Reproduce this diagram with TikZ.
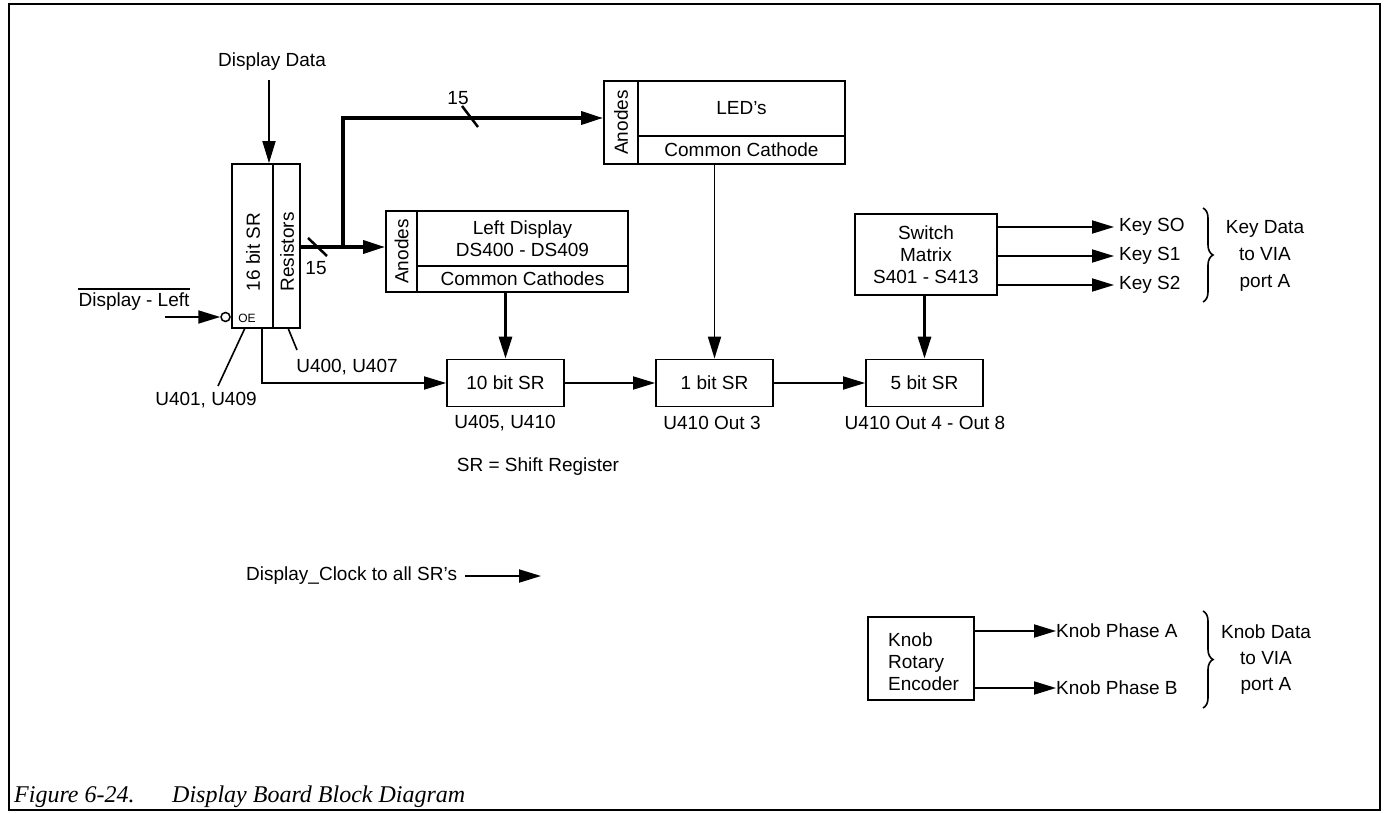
\documentclass[tikz,border=0pt]{standalone}
\usepackage{fontspec}
\setmainfont{Liberation Sans}
\newfontfamily\capfont{Liberation Serif}
\usetikzlibrary{arrows.meta,decorations.pathreplacing}
\newcommand\dfont{\fontsize{19}{22}\selectfont}
\newcommand\oefont{\fontsize{12}{14}\selectfont}
\begin{document}
\begin{tikzpicture}[x=1pt,y=-1pt,
  box/.style={draw, line width=1.8pt, inner sep=0pt, font=\dfont, align=center},
  lbl/.style={font=\dfont, inner sep=0pt},
  tip/.style={-{Triangle[length=22pt,width=13pt]}},
  wire/.style={line width=1.8pt},
  thinarr/.style={wire, tip},
  busarr/.style={line width=3.5pt, tip},
  tick/.style={line width=2.5pt},
  curly/.style={decorate, decoration={brace, amplitude=10pt}, line width=1.6pt}]
\useasboundingbox (0,0) rectangle (1384,813);
\fill[white] (0,0) rectangle (1384,813);
\draw[line width=2pt] (9,4) rectangle (1380,810);

% 16 bit SR + resistors
\node[box, minimum width=41pt, minimum height=164pt] (sr) at (252.5,246) {};
\node[box, minimum width=27pt, minimum height=164pt] (res) at (286.5,246) {};
\node[lbl, rotate=90] (srtxt) at (253,252) {16 bit SR};
\node[lbl, rotate=90] (restxt) at (287,252) {Resistors};
\node[inner sep=0pt, font=\oefont] (oe) at (247,318) {OE};
\node[draw, circle, line width=1.5pt, minimum size=9pt, inner sep=0pt] (bub) at (225.5,317) {};

% Display data
\node[lbl] (ddtxt) at (272,62) {Display Data};
\coordinate (ddtop) at (269,80);
\draw[thinarr] (ddtop) -- (ddtop |- sr.north);

% Display - Left
\node[lbl] (dltxt) at (134,302) {Display - Left};
\draw[line width=1.6pt] ([yshift=4pt]dltxt.north west) -- ([yshift=4pt]dltxt.north east);
\coordinate (dlin) at (165,317);
\draw[thinarr] (dlin) -- (bub.west);

% LED's
\node[box, minimum width=34pt, minimum height=83pt] (ledA) at (621,122.5) {};
\node[box, minimum width=207pt, minimum height=55pt] (ledT) at (741.5,108.5) {LED's};
\node[box, minimum width=207pt, minimum height=28pt] (ledB) at (741.5,150) {Common Cathode};
\node[lbl, rotate=90] at (ledA) {Anodes};

% Left display
\node[box, minimum width=31pt, minimum height=81pt] (ldA) at (401.5,251.5) {};
\node[box, minimum width=211pt, minimum height=55pt] (ldT) at (522.5,238.5) {Left Display\\DS400 - DS409};
\node[box, minimum width=211pt, minimum height=26pt] (ldB) at (522.5,279) {Common Cathodes};
\node[lbl, rotate=90] at (ldA) {Anodes};

% buses
\coordinate (split) at (343,247);
\coordinate (bend) at (343,118);
\draw[busarr] (res.east |- split) -- (split) -- (split -| ldA.west);
\draw[busarr] (split) -- (bend) -- (bend -| ledA.west);
\draw[tick] (308,238) -- (327,256);
\node[lbl] (n15a) at (316,268) {15};
\draw[tick] (462,106) -- (478,127);
\node[lbl] (n15b) at (458,98) {15};

% shift registers
\node[box, minimum width=117pt, minimum height=47pt] (sr10) at (505.5,383) {10 bit SR};
\node[box, minimum width=117pt, minimum height=47pt] (sr1) at (714.5,383) {1 bit SR};
\node[box, minimum width=117pt, minimum height=47pt] (sr5) at (924.5,383) {5 bit SR};
\node[lbl] at (505,423) {U405, U410};
\node[lbl] at (712,423) {U410 Out 3};
\node[lbl] at (925,423) {U410 Out 4 - Out 8};
\node[lbl] at (538,467) {SR = Shift Register};

\coordinate (c1) at (262,383);
\draw[thinarr] (sr.south -| c1) -- (c1) -- (sr10.west);
\draw[thinarr] (sr10.east) -- (sr1.west);
\draw[thinarr] (sr1.east) -- (sr5.west);
\draw[line width=3pt, tip] (ldB.south -| sr10.north) -- (sr10.north);
\draw[line width=1.8pt, tip] (ledB.south -| sr1.north) -- (sr1.north);

% leaders
\coordinate (l1) at (218,386);
\coordinate (l2) at (297,350);
\draw[line width=1.6pt] (245,328) -- (l1);
\draw[line width=1.6pt] (288,328) -- (l2);
\node[lbl] at (206,400) {U401, U409};
\node[lbl] at (347,367) {U400, U407};

% switch matrix
\node[box, minimum width=142pt, minimum height=81pt] (sw) at (926,254.5) {Switch\\Matrix\\S401 - S413};
\draw[line width=3pt, tip] (sw.south -| sr5.north) -- (sr5.north);
\node[lbl, anchor=west] (k0) at (1119,227) {Key SO};
\node[lbl, anchor=west] (k1) at (1119,256) {Key S1};
\node[lbl, anchor=west] (k2) at (1119,285) {Key S2};
\draw[thinarr, shorten >=5pt] (sw.east |- k0) -- (k0.west);
\draw[thinarr, shorten >=5pt] (sw.east |- k1) -- (k1.west);
\draw[thinarr, shorten >=5pt] (sw.east |- k2) -- (k2.west);
\draw[curly] (1203,208) -- (1203,302);
\node[lbl, align=center, font=\fontsize{19}{27}\selectfont] at (1265,256) {Key Data\\to VIA\\port A};

% clock
\node[lbl, anchor=west] (clk) at (246,576) {Display\_Clock to all SR's};
\coordinate (clkend) at (541,576);
\draw[thinarr, shorten <=8pt] (clk.east) -- (clkend);

% knob
\node[box, minimum width=106pt, minimum height=83pt] (knob) at (921,658.5) {};
\node[lbl, align=left, anchor=west] at (888,662) {Knob\\Rotary\\Encoder};
\node[lbl, anchor=west] (pa) at (1056,631) {Knob Phase A};
\node[lbl, anchor=west] (pb) at (1056,688) {Knob Phase B};
\draw[thinarr] (knob.east |- pa) -- (pa.west);
\draw[thinarr] (knob.east |- pb) -- (pb.west);
\draw[curly] (1203,611) -- (1203,708);
\node[lbl, align=center, font=\fontsize{19}{26}\selectfont] at (1266,660) {Knob Data\\to VIA\\port A};

% caption
\node[anchor=base west, inner sep=0pt, font=\capfont\itshape\fontsize{24}{27}\selectfont] at (14,802) {Figure 6-24.};
\node[anchor=base west, inner sep=0pt, font=\capfont\itshape\fontsize{24}{27}\selectfont] at (172,802) {Display Board Block Diagram};
\end{tikzpicture}
\end{document}
